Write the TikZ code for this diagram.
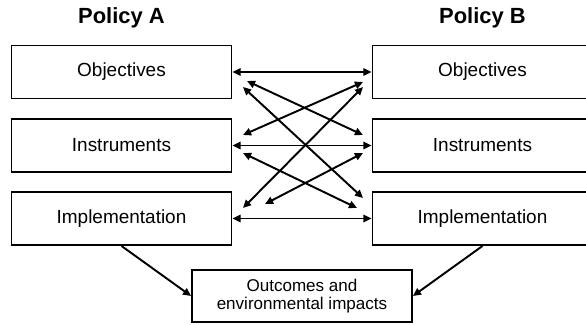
\documentclass[tikz,border=0pt]{standalone}
\usepackage{fontspec}
\setmainfont{Liberation Sans}
\usetikzlibrary{positioning, arrows.meta}

\begin{document}
\begin{tikzpicture}[x=0.02cm, y=-0.02cm,
    box/.style={draw, line width=1.1pt, minimum width=4.4cm, minimum height=1.06cm, font=\fontsize{10.8}{12}\selectfont},
    title/.style={font=\fontsize{12.5}{14}\selectfont\bfseries},
    link/.style={line width=1.1pt, {Triangle[length=4.6pt, width=4.2pt]}-{Triangle[length=4.6pt, width=4.2pt]}},
    feed/.style={line width=1.1pt, -{Triangle[length=4.6pt, width=4.2pt]}}]
  \useasboundingbox (0,0) rectangle (586,325);

  \node[title] (polA) at (121.5,18) {Policy A};
  \node[title] (polB) at (482.5,18) {Policy B};

  \node[box] (objA) at (121.5,72) {Objectives};
  \node[box] (insA) at (121.5,145.5) {Instruments};
  \node[box] (impA) at (121.5,218.5) {Implementation};

  \node[box] (objB) at (482.5,72) {Objectives};
  \node[box] (insB) at (482.5,145.5) {Instruments};
  \node[box] (impB) at (482.5,218.5) {Implementation};

  \node[box, minimum height=1.04cm, align=center, font=\fontsize{9.7}{10.2}\selectfont] (out) at (302,296) {Outcomes and\\environmental impacts};

  % ends of the crossing links
  \coordinate (l1) at (247,81);  \coordinate (r1) at (363,82);
  \coordinate (l2) at (243,87);  \coordinate (r2) at (363,87);
  \coordinate (l3) at (243,135); \coordinate (r3) at (363,135);
  \coordinate (l4) at (243,153); \coordinate (r4) at (363,153);
  \coordinate (l5) at (243,208); \coordinate (r5) at (363,198);
  \coordinate (l6) at (265,204); \coordinate (r6) at (357,208);

  \draw[link] (objA.east) -- (objB.west);
  \draw[link] (insA.east) -- (insB.west);
  \draw[link] (impA.east) -- (impB.west);

  \draw[link] (l1) -- (r3);
  \draw[link] (l2) -- (r5);
  \draw[link] (r1) -- (l3);
  \draw[link] (r2) -- (l5);
  \draw[link] (l4) -- (r6);
  \draw[link] (r4) -- (l6);

  \draw[feed] (impA.south) -- (out.west);
  \draw[feed] (impB.south) -- (out.east);
\end{tikzpicture}
\end{document}
